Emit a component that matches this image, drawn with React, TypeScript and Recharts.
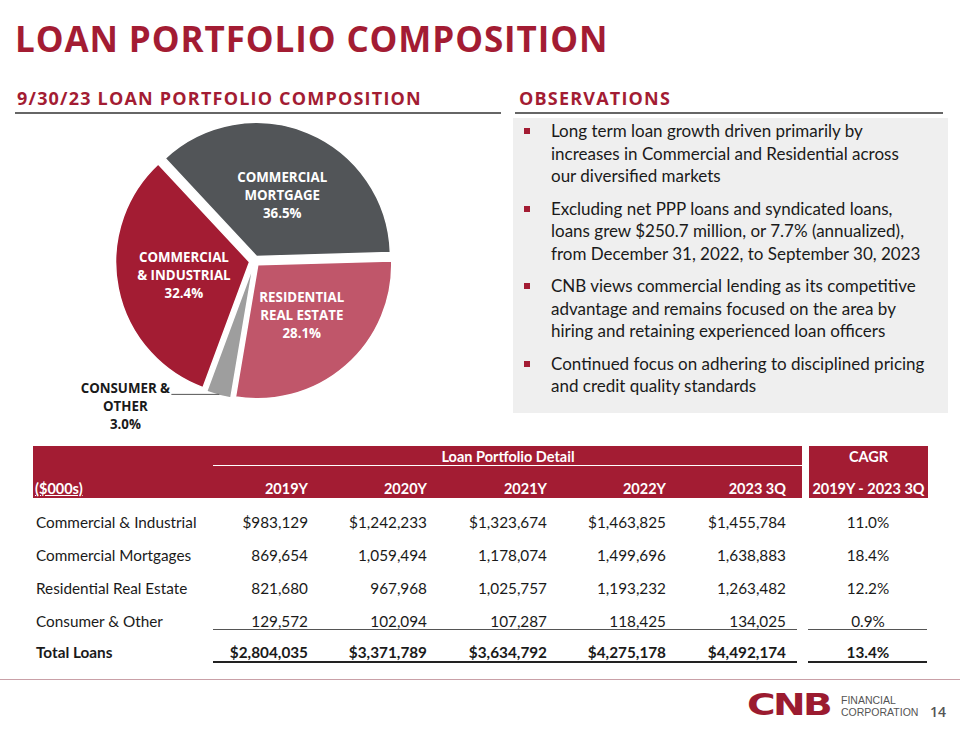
import React from 'react';
import { PieChart, Pie, Sector } from 'recharts';

const RED = '#a31c33';
const DARK = '#1a1a1a';

// table data ($000s)
const YEARS = ['2019Y', '2020Y', '2021Y', '2022Y', '2023 3Q'];
const LOAN_TYPES = ['Commercial & Industrial', 'Commercial Mortgages', 'Residential Real Estate', 'Consumer & Other'];
const commercialIndustrial = [983129, 1242233, 1323674, 1463825, 1455784];
const commercialMortgages = [869654, 1059494, 1178074, 1499696, 1638883];
const residentialRealEstate = [821680, 967968, 1025757, 1193232, 1263482];
const consumerOther = [129572, 102094, 107287, 118425, 134025];
const totalLoans = [2804035, 3371789, 3634792, 4275178, 4492174];
const cagr = ['11.0%', '18.4%', '12.2%', '0.9%'];
const totalCagr = '13.4%';

// pie, clockwise from the top left
const PIE_LABELS = ['COMMERCIAL|MORTGAGE', 'RESIDENTIAL|REAL ESTATE', 'CONSUMER &|OTHER', 'COMMERCIAL|& INDUSTRIAL'];
const PIE_VALUES = [commercialMortgages[4], residentialRealEstate[4], consumerOther[4], commercialIndustrial[4]];
const PIE_COLORS = ['#525558', '#c0566a', '#9e9e9e', '#a31c33'];

const OBSERVATIONS = [
  ['Long term loan growth driven primarily by', 'increases in Commercial and Residential across', 'our diversified markets'],
  ['Excluding net PPP loans and syndicated loans,', 'loans grew $250.7 million, or 7.7% (annualized),', 'from December 31, 2022, to September 30, 2023'],
  ['CNB views commercial lending as its competitive', 'advantage and remains focused on the area by', 'hiring and retaining experienced loan officers'],
  ['Continued focus on adhering to disciplined pricing', 'and credit quality standards'],
];

const pieData = PIE_LABELS.map((label, i) => ({ label, value: PIE_VALUES[i] }));

const RAD = Math.PI / 180;
const EXPLODE = 5;

const renderSlice = (props: any) => {
  const { cx, cy, midAngle, startAngle, endAngle, outerRadius, index, percent, payload } = props;
  const cos = Math.cos(-midAngle * RAD);
  const sin = Math.sin(-midAngle * RAD);
  const sx = cx + EXPLODE * cos;
  const sy = cy + EXPLODE * sin;
  const lines: string[] = [...payload.label.split('|'), `${(percent * 100).toFixed(1)}%`];
  let label;
  if (index === 2) {
    // small slice, label sits outside with a leader line
    const px = sx + (outerRadius - 3) * cos;
    const py = sy + (outerRadius - 3) * sin + 2;
    const ex = px - 48;
    label = (
      <g>
        <line x1={px} y1={py} x2={ex} y2={py} stroke="#555" strokeWidth={1} />
        {lines.map((t, k) => (
          <text key={k} x={ex - 46} y={py - 6 + k * 18} textAnchor="middle" dominantBaseline="central"
            fill={DARK} fontSize={13.3} fontWeight={700} fontFamily="'Open Sans', sans-serif">{t}</text>
        ))}
      </g>
    );
  } else {
    const r = outerRadius * 0.5;
    const lx = sx + r * cos;
    const ly = sy + r * sin;
    label = (
      <g>
        {lines.map((t, k) => (
          <text key={k} x={lx} y={ly + (k - 1) * 18} textAnchor="middle" dominantBaseline="central"
            fill="#fff" fontSize={13.3} fontWeight={700} fontFamily="'Open Sans', sans-serif">{t}</text>
        ))}
      </g>
    );
  }
  return (
    <g>
      <Sector cx={sx} cy={sy} innerRadius={0} outerRadius={outerRadius} startAngle={startAngle} endAngle={endAngle}
        fill={PIE_COLORS[index]} stroke="#fff" strokeWidth={1.5} />
      {label}
    </g>
  );
};

const fmt = (v: number, dollar: boolean) => (dollar ? '$' : '') + v.toLocaleString('en-US');

const COL_RIGHT = [308, 427, 547, 666, 786];
const CAGR_X = 868;
const ROW_Y = [522, 555, 588, 621];
const TOTAL_Y = 652;
const TABLE_FS = 15.3;

const abs = (x: number, y: number, extra: React.CSSProperties = {}): React.CSSProperties => ({
  position: 'absolute', left: x, top: y, whiteSpace: 'nowrap', ...extra,
});

const Cell = ({ text, right, cy, bold, color = DARK, center }: any) => (
  <div style={abs(center ? right - 60 : right - 150, cy - 10, {
    width: center ? 120 : 150, height: 20, lineHeight: '20px', textAlign: center ? 'center' : 'right',
    fontWeight: bold ? 700 : 400, color, fontSize: TABLE_FS,
  })}>{text}</div>
);

export default function App() {
  const rows = [commercialIndustrial, commercialMortgages, residentialRealEstate, consumerOther];
  const heading: React.CSSProperties = {
    fontFamily: "'Open Sans', sans-serif", fontWeight: 700, fontSize: 18, lineHeight: 1, color: RED, letterSpacing: 1.2,
  };
  const headWhite: React.CSSProperties = { color: '#fff', fontWeight: 700, fontSize: 14.5 };
  return (
    <div style={{ position: 'absolute', left: 0, top: 0, width: 960, height: 730, background: '#fff', overflow: 'hidden', fontFamily: 'Lato, sans-serif' }}>
      <div style={abs(15, 21, { fontFamily: "'Open Sans', sans-serif", fontWeight: 700, fontSize: 35, lineHeight: 1, color: RED, letterSpacing: 0.9 })}>
        LOAN PORTFOLIO COMPOSITION
      </div>

      <div style={abs(17, 89, heading)}>9/30/23 LOAN PORTFOLIO COMPOSITION</div>
      <div style={abs(15, 112, { width: 486, height: 2, background: '#666' })} />
      <div style={abs(519, 89, heading)}>OBSERVATIONS</div>
      <div style={abs(515, 112, { width: 428, height: 2, background: '#666' })} />

      <div style={abs(0, 110)}>
        <PieChart width={500} height={330}>
          <Pie data={pieData} dataKey="value" nameKey="label" cx={249.5} cy={146} outerRadius={134}
            startAngle={133} endAngle={-227} fill="none" stroke="none" labelLine={false}
            label={renderSlice} isAnimationActive={false} />
        </PieChart>
      </div>

      <div style={abs(513, 118, { width: 435, height: 295, background: '#efefef' })} />
      {OBSERVATIONS.map((lines, i) => {
        const top = 120 + i * 77.5;
        return (
          <React.Fragment key={i}>
            <div style={abs(524, top + 8, { width: 6, height: 6, background: RED })} />
            <div style={abs(551, top, { fontSize: 17, lineHeight: '22.5px', color: DARK })}>
              {lines.map((l, k) => <div key={k}>{l}</div>)}
            </div>
          </React.Fragment>
        );
      })}

      {/* table header */}
      <div style={abs(33, 446, { width: 769, height: 52, background: RED })} />
      <div style={abs(809, 446, { width: 119, height: 52, background: RED })} />
      <div style={abs(213, 465, { width: 589, height: 1, background: '#fff' })} />
      <div style={abs(408, 446, { width: 200, height: 21, lineHeight: '21px', textAlign: 'center', ...headWhite })}>
        Loan Portfolio Detail
      </div>
      <div style={abs(809, 446, { width: 119, height: 21, lineHeight: '21px', textAlign: 'center', ...headWhite })}>
        CAGR
      </div>
      <div style={abs(35, 479, { height: 20, lineHeight: '20px', textDecoration: 'underline', ...headWhite })}>
        ($000s)
      </div>
      {YEARS.map((y, i) => (
        <div key={y} style={abs(COL_RIGHT[i] - 100, 479, { width: 100, height: 20, lineHeight: '20px', textAlign: 'right', ...headWhite })}>{y}</div>
      ))}
      <div style={abs(809, 479, { width: 119, height: 20, lineHeight: '20px', textAlign: 'center', ...headWhite })}>
        2019Y - 2023 3Q
      </div>

      {/* table body */}
      {rows.map((vals, r) => (
        <React.Fragment key={r}>
          <div style={abs(36, ROW_Y[r] - 10, { height: 20, lineHeight: '20px', fontSize: TABLE_FS, color: DARK })}>{LOAN_TYPES[r]}</div>
          {vals.map((v, i) => <Cell key={i} text={fmt(v, r === 0)} right={COL_RIGHT[i]} cy={ROW_Y[r]} />)}
          <Cell text={cagr[r]} right={CAGR_X} cy={ROW_Y[r]} center />
        </React.Fragment>
      ))}
      <div style={abs(213, 629, { width: 584, height: 1, background: '#555' })} />
      <div style={abs(808, 629, { width: 119, height: 1, background: '#555' })} />

      <div style={abs(36, TOTAL_Y - 10, { height: 20, lineHeight: '20px', fontSize: TABLE_FS, fontWeight: 700, color: DARK })}>Total Loans</div>
      {totalLoans.map((v, i) => <Cell key={i} text={fmt(v, true)} right={COL_RIGHT[i]} cy={TOTAL_Y} bold />)}
      <Cell text={totalCagr} right={CAGR_X} cy={TOTAL_Y} center bold />
      <div style={abs(213, 661, { width: 584, height: 2, background: '#222' })} />
      <div style={abs(808, 661, { width: 119, height: 2, background: '#222' })} />

      {/* footer */}
      <div style={abs(0, 679, { width: 960, height: 1, background: '#c9a0a7' })} />
      <div style={abs(747, 690, { fontFamily: "'DejaVu Sans', sans-serif", fontWeight: 700, fontSize: 30, lineHeight: 1, color: '#9b1b30', letterSpacing: -2, transform: 'scaleX(1.3)', transformOrigin: 'left' })}>
        CNB
      </div>
      <div style={abs(841, 694, { fontFamily: "'Liberation Sans', sans-serif", fontSize: 10.5, lineHeight: '12px', color: '#555' })}>
        <div>FINANCIAL</div>
        <div>CORPORATION</div>
      </div>
      <div style={abs(930, 703, { fontFamily: "'Open Sans', sans-serif", fontSize: 14, fontWeight: 600, lineHeight: '18px', color: '#555' })}>14</div>
    </div>
  );
}
